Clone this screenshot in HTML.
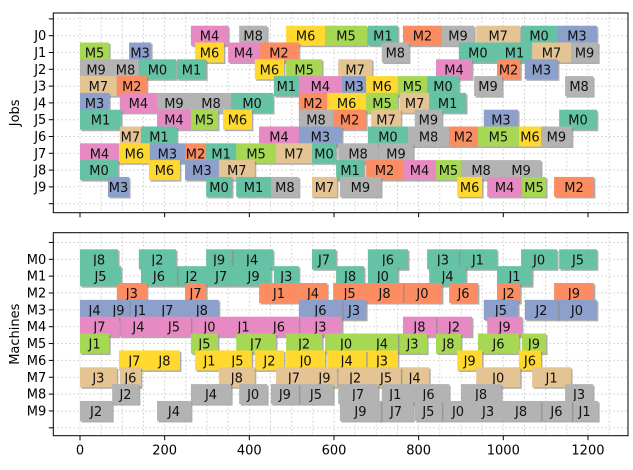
<!DOCTYPE html>
<html><head><meta charset="utf-8"><style>
html,body{margin:0;padding:0;background:#fff;}
svg{display:block;font-family:"DejaVu Sans","Liberation Sans",sans-serif;}
</style></head><body>
<svg id="chart" width="633" height="470" viewBox="0 0 633 470" xmlns="http://www.w3.org/2000/svg"></svg>
<script>
const machineSeq = [
 [4,8,6,5,1,2,9,7,0,3],
 [5,3,6,4,2,8,0,1,7,9],
 [9,8,0,1,6,5,7,4,2,3],
 [7,2,1,4,3,6,5,0,9,8],
 [3,4,9,8,0,2,6,5,7,1],
 [1,4,5,6,8,2,7,9,3,0],
 [7,1,4,3,0,8,2,5,6,9],
 [4,6,3,2,1,5,7,0,8,9],
 [0,6,3,7,1,2,4,5,8,9],
 [3,0,1,8,7,9,6,4,5,2]
];
const starts = [
 [262,376,487,579,680,763,855,936,1042,1127],
 [0,116,272,350,423,713,895,985,1068,1160],
 [0,76,139,229,413,487,610,841,985,1051],
 [0,87,458,517,619,676,751,820,931,1146],
 [0,94,182,262,357,517,584,676,756,825],
 [0,182,262,338,517,598,688,791,954,1132],
 [94,144,423,517,680,775,872,940,1037,1089],
 [0,92,165,248,298,369,463,548,610,706],
 [0,163,248,328,605,676,763,841,900,995],
 [66,298,369,451,548,614,891,962,1044,1120]
];
const ends = [
 [350,442,579,678,751,855,931,1040,1127,1221],
 [69,168,340,423,517,777,985,1068,1160,1224],
 [76,139,227,298,482,572,690,926,1040,1129],
 [87,158,517,619,676,751,820,895,997,1212],
 [69,182,262,357,456,584,676,751,825,912],
 [97,262,326,406,598,676,758,855,1035,1221],
 [144,229,517,619,775,872,940,1037,1089,1162],
 [92,165,248,298,369,463,548,605,704,787],
 [90,236,328,413,671,763,841,900,995,1089],
 [116,359,451,517,607,711,950,1044,1101,1214]
];
const xTicks = [0,200,400,600,800,1000,1200];
const rowLabelsJobs = ["J0","J1","J2","J3","J4","J5","J6","J7","J8","J9"];
const rowLabelsMachines = ["M0","M1","M2","M3","M4","M5","M6","M7","M8","M9"];
const machineColors = ["#66c2a5","#66c2a5","#fc8d62","#8da0cb","#e78ac3","#a6d854","#ffd92f","#e5c494","#b3b3b3","#b3b3b3"];

const NS="http://www.w3.org/2000/svg";
const svg=document.getElementById('chart');
function mk(tag,attrs,parent){const e=document.createElementNS(NS,tag);for(const k in attrs)e.setAttribute(k,attrs[k]);(parent||svg).appendChild(e);return e;}
const X0=80, XS=0.4233;
function xs(t){return X0+t*XS;}
const panels=[{top:13,bottom:212.7,y0:35.7,dy:16.8,labels:rowLabelsJobs,title:"Jobs",name:"jobs-panel"},
              {top:232.7,bottom:435.7,y0:259.3,dy:16.85,labels:rowLabelsMachines,title:"Machines",name:"machines-panel"}];
const L=53.3,R=628;
panels.forEach((p,pi)=>{
  const g=mk('g',{});
  
  
  const ys=r=>p.y0+r*p.dy;
  // grid
  for(let t=0;t<=1250;t+=50){const gl=mk('line',{x1:xs(t),x2:xs(t),y1:p.top,y2:p.bottom,stroke:'#ccc','stroke-width':1,'stroke-dasharray':'1.5,2.5'},g);
    }
  for(let r=-1;r<=10;r++){const gl=mk('line',{x1:L,x2:R,y1:ys(r),y2:ys(r),stroke:'#ccc','stroke-width':1,'stroke-dasharray':'1.5,2.5'},g);
    }
  // bars
  const bars=[];
  if(pi===0){for(let j=0;j<10;j++)for(let k=0;k<10;k++)bars.push({row:j,m:machineSeq[j][k],s:starts[j][k],e:ends[j][k],label:"M"+machineSeq[j][k]});}
  else{for(let m=0;m<10;m++)for(let j=0;j<10;j++)for(let k=0;k<10;k++)if(machineSeq[j][k]===m)bars.push({row:m,m:m,s:starts[j][k],e:ends[j][k],label:"J"+j});}
  const H=20;
  bars.forEach(b=>{
    const x=xs(b.s),w=xs(b.e)-xs(b.s),y=ys(b.row)-H/2;
    const sh=mk('rect',{x:x+1.5,y:y+1.5,width:w,height:H,fill:'#8a8a8a','fill-opacity':0.7},g);
    
    const r=mk('rect',{x:x,y:y,width:w,height:H,fill:machineColors[b.m]},g);
    
    const t=mk('text',{x:x+w/2,y:ys(b.row)+5,'text-anchor':'middle','font-size':13,fill:'#111'},g);
    
    t.textContent=b.label;
  });
  // frame
  const fr=mk('rect',{x:L,y:p.top,width:R-L,height:p.bottom-p.top,fill:'none',stroke:'#000','stroke-width':1},g);
  
  for(let r=-1;r<=10;r++){
    const tk=mk('line',{x1:L-4.5,x2:L,y1:ys(r),y2:ys(r),stroke:'#000','stroke-width':1},g);
    
    if(r>=0&&r<=9){const tl=mk('text',{x:L-7,y:ys(r)+4.5,'text-anchor':'end','font-size':13,fill:'#000'},g);
      tl.textContent=p.labels[r];}
  }
  xTicks.forEach(v=>{
    const tk=mk('line',{x1:xs(v),x2:xs(v),y1:p.bottom,y2:p.bottom+4.5,stroke:'#000','stroke-width':1},g);
    
    if(pi===1){const tl=mk('text',{x:xs(v),y:p.bottom+19,'text-anchor':'middle','font-size':13,fill:'#000'},g);
      tl.textContent=v;}
  });
  const cy=(p.top+p.bottom)/2;
  const yt=mk('text',{x:0,y:0,transform:`translate(19,${cy}) rotate(-90)`,'text-anchor':'middle','font-size':13,fill:'#000'},g);
  yt.textContent=p.title;
});
</script>
</body></html>
